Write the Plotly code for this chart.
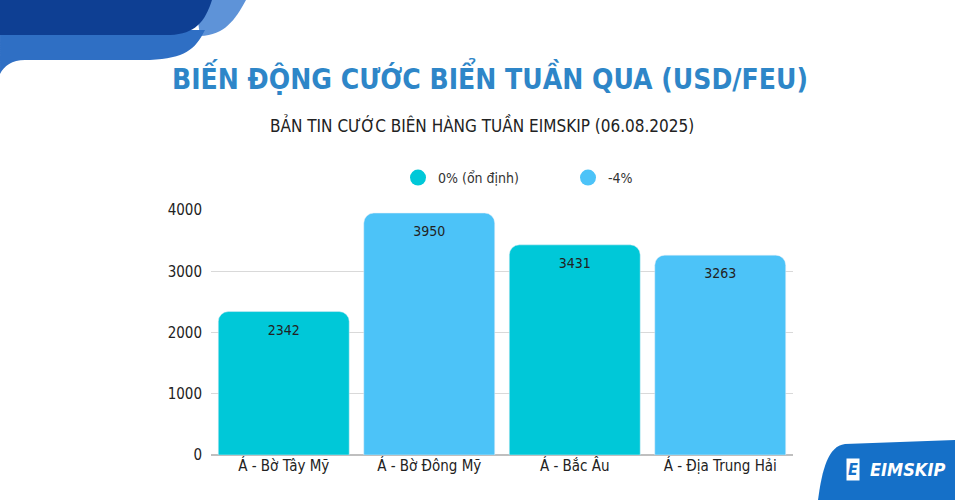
import plotly.graph_objects as go

categories = ["Á - Bờ Tây Mỹ", "Á - Bờ Đông Mỹ", "Á - Bắc Âu", "Á - Địa Trung Hải"]
values = [2342, 3950, 3431, 3263]
series_names = ["0% (ổn định)", "-4%"]
series_of_bar = [0, 1, 0, 1]
colors = ["#00C8D8", "#4CC3F8"]
yticks = [0, 1000, 2000, 3000, 4000]

FONT = "DejaVu Sans Condensed"
L, R, T, B = 211, 167, 210, 45
W, H = 960, 500
PW, PH = W - L - R, H - T - B

def px(x):
    return (x - L) / PW

def py(y):
    return (H - B - y) / PH

def path(cmds):
    out = []
    for c in cmds:
        if isinstance(c, str):
            out.append(c)
        else:
            out.append(f"{px(c[0]):.4f},{py(c[1]):.4f}")
    return " ".join(out)

fig = go.Figure()
for s, name in enumerate(series_names):
    xs = [categories[i] for i in range(4) if series_of_bar[i] == s]
    vs = [values[i] for i in range(4) if series_of_bar[i] == s]
    fig.add_bar(x=xs, y=vs, name=name, marker_color=colors[s], text=vs, showlegend=False,
                textposition="inside", insidetextanchor="end",
                textfont=dict(color="#222", size=14, family=FONT), cliponaxis=False)
for s, name in enumerate(series_names):
    fig.add_scatter(x=[None], y=[None], mode="markers", name=name,
                    marker=dict(color=colors[s], size=18, symbol="circle"))

shapes = [
    dict(type="path", xref="paper", yref="paper", fillcolor="#5E93D8", line_width=0, layer="below",
         path=path(["M", (195, 0), "L", (246, 0), "C", (235, 20), (225, 35), (200, 36), "Z"])),
    dict(type="path", xref="paper", yref="paper", fillcolor="#2F6FC4", line_width=0, layer="below",
         path=path(["M", (0, 30), "L", (205, 30), "C", (195, 50), (185, 58), (150, 60),
                    "L", (25, 60), "C", (12, 60), (4, 66), (0, 74), "Z"])),
    dict(type="path", xref="paper", yref="paper", fillcolor="#0E3F93", line_width=0, layer="below",
         path=path(["M", (0, 0), "L", (212, 0), "C", (205, 22), (195, 34), (170, 35),
                    "L", (0, 35), "Z"])),
    dict(type="path", xref="paper", yref="paper", fillcolor="#1570C8", line_width=0, layer="above",
         path=path(["M", (845, 444), "L", (955, 440), "L", (955, 500), "L", (818, 500),
                    "C", (822, 470), (828, 446), (845, 444), "Z"])),
]

annotations = [
    dict(text="<b>BIẾN ĐỘNG CƯỚC BIỂN TUẦN QUA (USD/FEU)</b>", xref="paper", yref="paper",
         x=px(490), y=py(77), yanchor="middle", showarrow=False,
         font=dict(size=28, color="#2E86C8", family=FONT)),
    dict(text="BẢN TIN CƯỚC BIÊN HÀNG TUẦN EIMSKIP (06.08.2025)", xref="paper", yref="paper",
         x=px(482), y=py(124), yanchor="middle", showarrow=False,
         font=dict(size=17, color="#222", family=FONT)),
    dict(text="<b><i>E</i></b>", xref="paper", yref="paper", x=px(846), y=py(469),
         xanchor="left", yanchor="middle", showarrow=False, bgcolor="white", borderpad=1,
         font=dict(size=16, color="#1570C8", family=FONT)),
    dict(text="<b><i>EIMSKIP</i></b>", xref="paper", yref="paper", x=px(868), y=py(469),
         xanchor="left", yanchor="middle", showarrow=False,
         font=dict(size=18, color="white", family=FONT)),
]

fig.update_layout(
    width=W, height=H, margin=dict(l=L, r=R, t=T, b=B),
    plot_bgcolor="white", paper_bgcolor="white",
    barmode="overlay", bargap=0.1, barcornerradius=10,
    font=dict(family=FONT, size=14, color="#333"),
    legend=dict(orientation="h", x=px(398), xanchor="left", y=py(178), yanchor="middle",
                font=dict(size=14, color="#333", family=FONT), entrywidth=125),
    shapes=shapes, annotations=annotations,
    xaxis=dict(categoryorder="array", categoryarray=categories, showgrid=False,
               tickfont=dict(size=15, color="#222"), showline=False, ticks=""),
    yaxis=dict(range=[0, 4000], tickvals=yticks, gridcolor="#D9D9D9", zeroline=True,
               zerolinecolor="#BFBFBF", tickfont=dict(size=15, color="#222"), ticks="",
               ticklabelstandoff=8),
)
fig.write_html("out.html", config={"displayModeBar": False},
               post_script="document.body.style.margin='0';document.body.style.padding='0';")
